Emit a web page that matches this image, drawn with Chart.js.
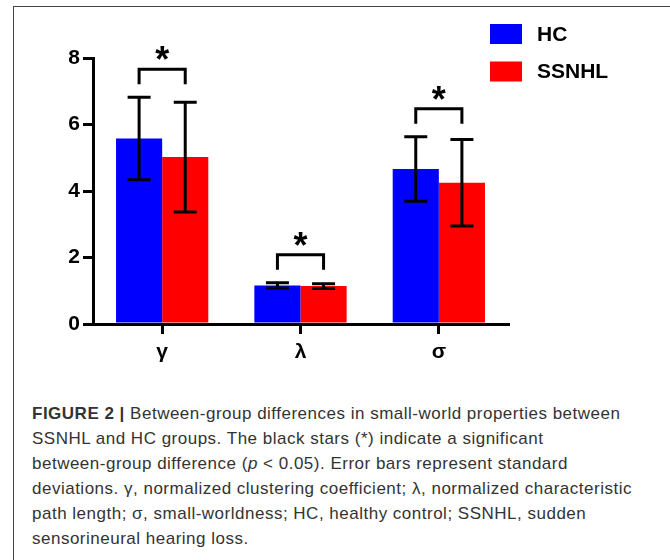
<!DOCTYPE html>
<html>
<head>
<meta charset="utf-8">
<script src="https://cdn.jsdelivr.net/npm/chart.js@4/dist/chart.umd.min.js"></script>
<style>
  body { margin: 0; background: #fff; }
  #page { position: relative; width: 670px; height: 560px; overflow: hidden; }
  #frame { position: absolute; left: 13px; top: 6px; width: 700px; height: 600px;
           border-left: 1px solid #444; border-top: 1px solid #444; }
  #plot { position: absolute; left: 0; top: 0; }
  #caption { position: absolute; left: 32px; top: 401px; font-family: 'Liberation Sans', Arial, sans-serif;
             font-size: 17px; line-height: 25px; letter-spacing: 0.5px; color: #333; white-space: nowrap; }
</style>
</head>
<body>
<div id="page">
  <div id="frame"></div>
  <canvas id="plot" width="670" height="380"></canvas>
  <div id="caption">
    <b>FIGURE 2 |</b> Between-group differences in small-world properties between<br>
    SSNHL and HC groups. The black stars (*) indicate a significant<br>
    between-group difference (<i>p</i> &lt; 0.05). Error bars represent standard<br>
    deviations. &gamma;, normalized clustering coefficient; &lambda;, normalized characteristic<br>
    path length; &sigma;, small-worldness; HC, healthy control; SSNHL, sudden<br>
    sensorineural hearing loss.
  </div>
</div>
<script>
// values
var categories = ['γ', 'λ', 'σ'];
var hcMean = [5.58, 1.16, 4.66];
var hcSd = [1.24, 0.08, 0.97];
var ssnhlMean = [5.02, 1.14, 4.25];
var ssnhlSd = [1.65, 0.07, 1.30];
var significant = [true, true, true];

var FONT = "'Liberation Sans', Arial, sans-serif";

// error bars + significance brackets
var errorBars = {
    id: 'errorBars',
    afterDatasetsDraw: function (chart) {
        var ctx = chart.ctx;
        var y = chart.scales.y;
        var tops = [];
        ctx.save();
        ctx.strokeStyle = '#000';
        ctx.lineWidth = 3;
        chart.data.datasets.forEach(function (ds, i) {
            chart.getDatasetMeta(i).data.forEach(function (bar, j) {
                var hi = y.getPixelForValue(ds.data[j] + ds.sd[j]);
                var lo = y.getPixelForValue(ds.data[j] - ds.sd[j]);
                tops[j] = tops[j] === undefined ? hi : Math.min(tops[j], hi);
                ctx.beginPath();
                ctx.moveTo(bar.x, hi); ctx.lineTo(bar.x, lo);
                ctx.moveTo(bar.x - 11.5, hi); ctx.lineTo(bar.x + 11.5, hi);
                ctx.moveTo(bar.x - 11.5, lo); ctx.lineTo(bar.x + 11.5, lo);
                ctx.stroke();
            });
        });
        var a = chart.getDatasetMeta(0).data;
        var b = chart.getDatasetMeta(1).data;
        significant.forEach(function (sig, j) {
            if (!sig) return;
            var legBottom = tops[j] - 13;
            var top = legBottom - 15;
            ctx.beginPath();
            ctx.moveTo(a[j].x, legBottom);
            ctx.lineTo(a[j].x, top);
            ctx.lineTo(b[j].x, top);
            ctx.lineTo(b[j].x, legBottom);
            ctx.stroke();
            ctx.fillStyle = '#000';
            ctx.font = 'bold 36px ' + FONT;
            ctx.textAlign = 'center';
            ctx.textBaseline = 'alphabetic';
            ctx.fillText('*', (a[j].x + b[j].x) / 2, top + 3);
        });
        ctx.restore();
    }
};

// legend in the top right corner
var cornerLegend = {
    id: 'cornerLegend',
    afterDraw: function (chart) {
        var ctx = chart.ctx;
        ctx.save();
        chart.data.datasets.forEach(function (ds, i) {
            var y0 = 24 + i * 37.5;
            ctx.fillStyle = ds.backgroundColor;
            ctx.fillRect(490, y0, 32, 20);
            ctx.fillStyle = '#000';
            ctx.font = 'bold 21px ' + FONT;
            ctx.textAlign = 'left';
            ctx.textBaseline = 'middle';
            ctx.fillText(ds.label, 537, y0 + 11);
        });
        ctx.restore();
    }
};

new Chart(document.getElementById('plot'), {
    type: 'bar',
    data: {
        labels: categories,
        datasets: [{
            label: 'HC',
            data: hcMean,
            sd: hcSd,
            backgroundColor: '#0000ff'
        }, {
            label: 'SSNHL',
            data: ssnhlMean,
            sd: ssnhlSd,
            backgroundColor: '#ff0000'
        }]
    },
    options: {
        responsive: false,
        animation: false,
        layout: { padding: { top: 58, right: 162, left: 0, bottom: 0 } },
        categoryPercentage: 0.667,
        barPercentage: 1,
        plugins: {
            legend: { display: false },
            tooltip: { enabled: false }
        },
        scales: {
            x: {
                offset: true,
                grid: { offset: false, drawOnChartArea: false, color: '#000', lineWidth: 3, tickLength: 10 },
                border: { color: '#000', width: 3 },
                ticks: { color: '#000', padding: 6, font: { family: FONT, size: 21, weight: 'bold' } },
                afterFit: function (s) { s.height = 56; }
            },
            y: {
                min: 0,
                max: 8,
                grid: { drawOnChartArea: false, color: '#000', lineWidth: 3, tickLength: 10 },
                border: { color: '#000', width: 3 },
                ticks: { stepSize: 2, color: '#000', padding: 3, font: { family: FONT, size: 21, weight: 'bold' } },
                afterFit: function (s) { s.width = 93; }
            }
        }
    },
    plugins: [errorBars, cornerLegend]
});
</script>
</body>
</html>
